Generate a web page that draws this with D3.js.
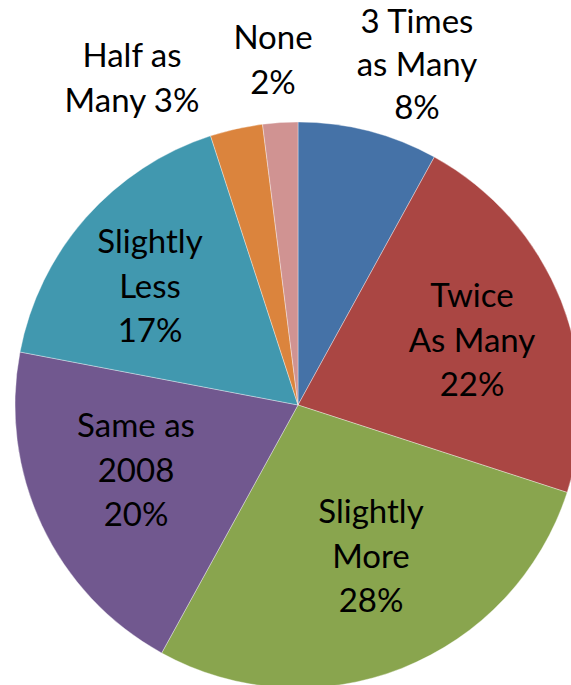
<!DOCTYPE html>
<html><head><meta charset="utf-8">
<script src="https://cdn.jsdelivr.net/npm/d3@7"></script>
<style>html,body{margin:0;padding:0;background:#fff;overflow:hidden}</style>
</head><body>
<svg id="c" width="571" height="685"></svg>
<script>
const categories = ["3 Times as Many","Twice As Many","Slightly More","Same as 2008","Slightly Less","Half as Many","None"];
const values = [8, 22, 28, 20, 17, 3, 2];
const colors = ["#4572A7","#AA4643","#89A54E","#71588F","#4198AF","#DB843D","#D09392"];
// label lines (text) per slice
const labelLines = [
  ["3 Times","as Many","8%"],
  ["Twice","As Many","22%"],
  ["Slightly","More","28%"],
  ["Same as","2008","20%"],
  ["Slightly","Less","17%"],
  ["Half as","Many 3%"],
  ["None","2%"]
];
// label anchor positions (center x, first baseline y)
const labelPos = [[417,33],[472,307],[371,523],[136,437],[150,253],[132,67],[273,49]];

const svg = d3.select("#c");
const cx = 298, cy = 405, R = 283;
const pie = d3.pie().sort(null).value(d => d)(values);
const arc = d3.arc().innerRadius(0).outerRadius(R);
const g = svg.append("g").attr("transform", `translate(${cx},${cy})`);
g.selectAll("path").data(pie).join("path")
  .attr("d", arc)
  .attr("fill", (d,i) => colors[i])
  .attr("stroke", "rgba(255,255,255,0.45)")
  .attr("stroke-width", 0.8);

const fs = 33;
labelLines.forEach((lines, i) => {
  const lh = i === 0 ? 43 : 44.5;
  const t = svg.append("text")
    .attr("text-anchor","middle")
    .attr("font-family","Lato, 'Open Sans', sans-serif")
    .attr("font-size", fs)
    .attr("fill","#000");
  lines.forEach((ln, j) => {
    t.append("tspan").attr("x", labelPos[i][0]).attr("y", labelPos[i][1] + j*lh).text(ln);
  });
});
</script>
</body></html>
